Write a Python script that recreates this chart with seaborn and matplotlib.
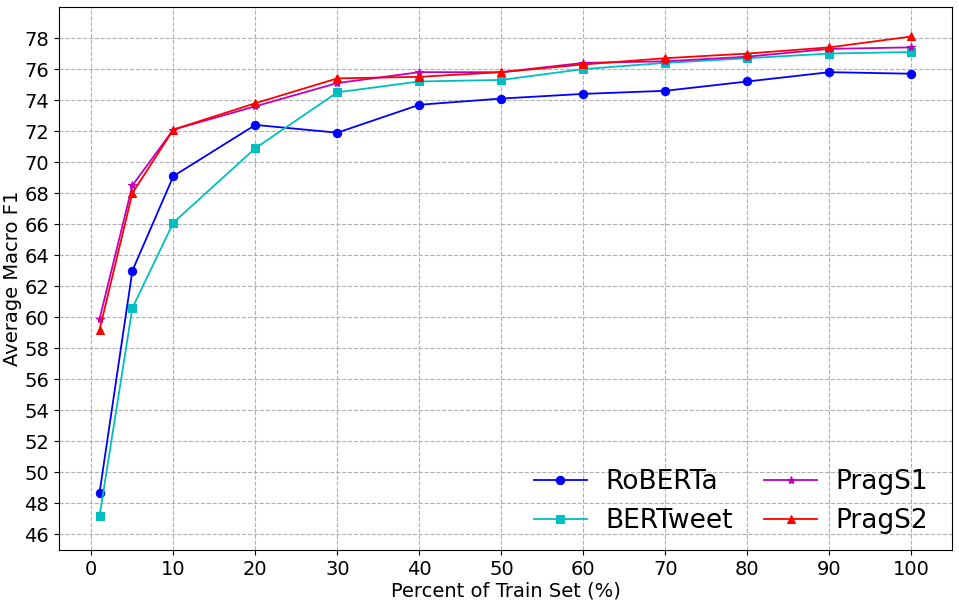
import matplotlib
matplotlib.use("Agg")
import matplotlib.pyplot as plt
import numpy as np
import pandas as pd
import seaborn as sns

# Percent of train set used
percent = [1, 5, 10, 20, 30, 40, 50, 60, 70, 80, 90, 100]

# Average macro F1 per model
roberta = [48.7, 63.0, 69.1, 72.4, 71.9, 73.7, 74.1, 74.4, 74.6, 75.2, 75.8, 75.7]
bertweet = [47.2, 60.6, 66.1, 70.9, 74.5, 75.2, 75.3, 76.0, 76.4, 76.7, 77.0, 77.1]
prags1 = [59.9, 68.5, 72.1, 73.6, 75.1, 75.8, 75.8, 76.4, 76.5, 76.8, 77.3, 77.4]
prags2 = [59.2, 68.0, 72.1, 73.8, 75.4, 75.5, 75.8, 76.3, 76.7, 77.0, 77.4, 78.1]

models = ["RoBERTa", "BERTweet", "PragS1", "PragS2"]
scores = [roberta, bertweet, prags1, prags2]
colors = ["b", "c", "m", "r"]
markers = ["o", "s", "*", "^"]

fig, ax = plt.subplots(figsize=(9.59, 6.05), dpi=100)
fig.subplots_adjust(left=0.0615, right=0.9927, top=0.9884, bottom=0.0909)

for name, vals, col, mk in zip(models, scores, colors, markers):
    df = pd.DataFrame({"percent": percent, "f1": vals})
    sns.lineplot(data=df, x="percent", y="f1", ax=ax, color=col, marker=mk,
                 markersize=6, markeredgecolor=col, linewidth=1.3, label=name)

ax.set_ylim(45, 80)
ax.set_yticks(np.arange(46, 80, 2))
ax.set_xticks(np.arange(0, 101, 10))
ax.tick_params(labelsize=14)
ax.grid(True, linestyle="--", color="#b0b0b0", linewidth=0.8)
ax.set_axisbelow(True)
ax.set_xlabel("Percent of Train Set (%)", fontsize=14, labelpad=2)
ax.set_ylabel("Average Macro F1", fontsize=14, labelpad=2)
ax.legend(loc="lower right", bbox_to_anchor=(1.0, -0.015), ncol=2,
          frameon=False, fontsize=19, handlelength=2.0, columnspacing=1.2,
          handletextpad=0.7)

plt.savefig("out.png", dpi=100)
